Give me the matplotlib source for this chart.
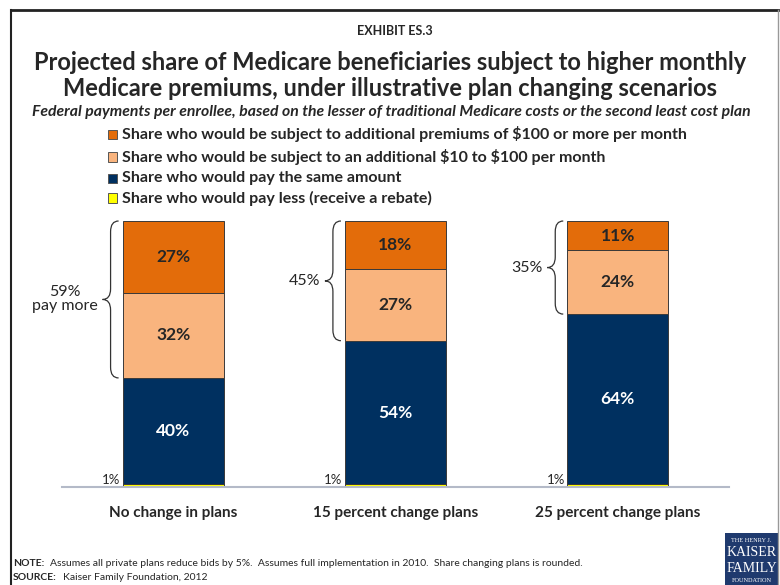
"""Stacked bars: projected share of Medicare beneficiaries facing higher premiums."""

import numpy as np
import matplotlib
matplotlib.use('Agg')
import matplotlib.pyplot as plt
from matplotlib.path import Path
from matplotlib.patches import PathPatch, Rectangle
from matplotlib.lines import Line2D

plt.rcParams['font.family'] = ['Lato', 'DejaVu Sans']

categories = ['No change in plans', '15 percent change plans', '25 percent change plans']
pay_less = [1, 1, 1]
pay_same = [40, 54, 64]
extra_10_100 = [32, 27, 24]
extra_100 = [27, 18, 11]
pay_more_labels = ['59%\npay more', '45%', '35%']

legend_labels = [
    r'Share who would be subject to additional premiums of \$100 or more per month',
    r'Share who would be subject to an additional \$10 to \$100 per month',
    'Share who would pay the same amount',
    'Share who would pay less (receive a rebate)',
]

c_top = '#E36C0A'
c_mid = '#F9B47E'
c_navy = '#003060'
c_yel = '#FFFF00'
c_text = '#262626'

W, H = 780, 585


def fx(x):
    return x / W


def fy(y):
    return 1 - y / H


def brace(ax, x_tip, x_end, y0, y1, d=4.0):
    """Left-pointing curly brace from y0 to y1 in data coords."""
    xm = (x_tip + x_end) / 2
    ym = (y0 + y1) / 2
    verts = [(x_end, y1), (xm, y1), (xm, y1 - d),
             (xm, ym + d), (xm, ym), (x_tip, ym),
             (xm, ym), (xm, ym - d),
             (xm, y0 + d), (xm, y0), (x_end, y0)]
    codes = [Path.MOVETO, Path.CURVE3, Path.CURVE3,
             Path.LINETO, Path.CURVE3, Path.CURVE3,
             Path.CURVE3, Path.CURVE3,
             Path.LINETO, Path.CURVE3, Path.CURVE3]
    ax.add_patch(PathPatch(Path(verts, codes), fill=False, lw=0.9,
                           edgecolor='#333333', clip_on=False))


fig = plt.figure(figsize=(7.8, 5.85), dpi=100)
ax = fig.add_axes([fx(62), fy(487), fx(729) - fx(62), fy(221) - fy(487)])

x = np.arange(len(categories))
bw = 0.455
ec = '#3a3a3a'
b0 = np.zeros(len(x))
ax.bar(x, pay_less, bw, bottom=b0, color=c_yel, edgecolor=ec, lw=0.7)
b1 = b0 + np.array(pay_less)
ax.bar(x, pay_same, bw, bottom=b1, color=c_navy, edgecolor=ec, lw=0.7)
b2 = b1 + np.array(pay_same)
ax.bar(x, extra_10_100, bw, bottom=b2, color=c_mid, edgecolor=ec, lw=0.7)
b3 = b2 + np.array(extra_10_100)
ax.bar(x, extra_100, bw, bottom=b3, color=c_top, edgecolor=ec, lw=0.7)
top = b3 + np.array(extra_100)

for i in range(len(x)):
    ax.text(x[i], b1[i] + pay_same[i] / 2, f'{pay_same[i]}%', ha='center',
            va='center', color='white', fontsize=12.5, fontweight='bold')
    ax.text(x[i], b2[i] + extra_10_100[i] / 2, f'{extra_10_100[i]}%',
            ha='center', va='center', color=c_text, fontsize=12.5, fontweight='bold')
    ax.text(x[i], b3[i] + extra_100[i] / 2, f'{extra_100[i]}%', ha='center',
            va='center', color=c_text, fontsize=12.5, fontweight='bold')
    ax.text(x[i] - bw / 2 - 0.01, 0.3, f'{pay_less[i]}%', ha='right',
            va='bottom', color=c_text, fontsize=9.5)
    # brace over the "pay more" segments
    x_end = x[i] - bw / 2 - 0.018
    x_tip = x[i] - bw / 2 - 0.09
    brace(ax, x_tip, x_end, b2[i], top[i])
    ax.text(x_tip - 0.02, (b2[i] + top[i]) / 2, pay_more_labels[i],
            ha='right', va='center', ma='center', color=c_text, fontsize=11.5,
            linespacing=1.0)

ax.set_xlim(-0.5, 2.5)
ax.set_ylim(0, 100)
ax.set_xticks(x)
ax.set_xticklabels(categories, fontsize=11, fontweight='bold', color=c_text)
ax.tick_params(axis='x', length=0, pad=14)
ax.set_yticks([])
for s in ['top', 'left', 'right']:
    ax.spines[s].set_visible(False)
ax.spines['bottom'].set_color('#B4BAC8')
ax.spines['bottom'].set_linewidth(1.5)

# titles
fig.text(fx(395), fy(31), 'EXHIBIT ES.3', ha='center', va='center',
         fontsize=9, fontweight='bold', color=c_text)
fig.text(fx(390), fy(75.5), 'Projected share of Medicare beneficiaries subject to higher monthly\n'
         'Medicare premiums, under illustrative plan changing scenarios',
         ha='center', va='center', fontsize=17, fontweight='bold',
         color=c_text, linespacing=1.12)
fig.text(fx(391), fy(112), 'Federal payments per enrollee, based on the lesser of '
         'traditional Medicare costs or the second least cost plan',
         ha='center', va='center', fontsize=11.3, fontweight='bold',
         fontstyle='italic', color=c_text)

# legend
leg_colors = [c_top, c_mid, c_navy, c_yel]
leg_y = [134, 157, 178, 198]
for col, lab, yy in zip(leg_colors, legend_labels, leg_y):
    fig.patches.append(Rectangle((fx(108), fy(yy + 4.5)), 9 / W, 9 / H,
                                 transform=fig.transFigure, facecolor=col,
                                 edgecolor='#555555', lw=0.7))
    fig.text(fx(122), fy(yy), lab, ha='left', va='center', fontsize=11.5,
             fontweight='bold', color=c_text)

# notes: bold lead-in, then plain text placed right after it
note = fig.text(fx(13), fy(564), 'NOTE:', ha='left', va='center', fontsize=7.5,
                fontweight='bold', color=c_text)
src = fig.text(fx(13), fy(577), 'SOURCE:', ha='left', va='center', fontsize=7.5,
               fontweight='bold', color=c_text)
fig.canvas.draw()
r = fig.canvas.get_renderer()
fig.text((note.get_window_extent(r).x1 + 6) / W, fy(564),
         'Assumes all private plans reduce bids by 5%.  Assumes full '
         'implementation in 2010.  Share changing plans is rounded.',
         ha='left', va='center', fontsize=7.5, color=c_text)
fig.text((src.get_window_extent(r).x1 + 6) / W, fy(577),
         'Kaiser Family Foundation, 2012',
         ha='left', va='center', fontsize=7.5, color=c_text)

# logo
fig.patches.append(Rectangle((fx(725), fy(585)), 53 / W, 52 / H,
                             transform=fig.transFigure, facecolor='#1F3A6E',
                             edgecolor='none'))
logo = [('THE HENRY J.', 540, 4.5), ('KAISER', 553, 10), ('FAMILY', 568, 10),
        ('FOUNDATION', 581, 4.5)]
for t, yy, fs in logo:
    fig.text(fx(751.5), fy(yy), t, ha='center', va='center', fontsize=fs,
             color='white', family='Liberation Serif')

# frame
fig.add_artist(Line2D([fx(10.5), fx(778)], [fy(10), fy(10)], color='#222222',
                      lw=2, transform=fig.transFigure))
fig.add_artist(Line2D([fx(10.5), fx(10.5)], [fy(10), fy(585)], color='#222222',
                      lw=1.5, transform=fig.transFigure))
fig.add_artist(Line2D([fx(778), fx(778)], [fy(10), fy(585)], color='#999999',
                      lw=1, transform=fig.transFigure))

fig.savefig('out.png', dpi=100)
